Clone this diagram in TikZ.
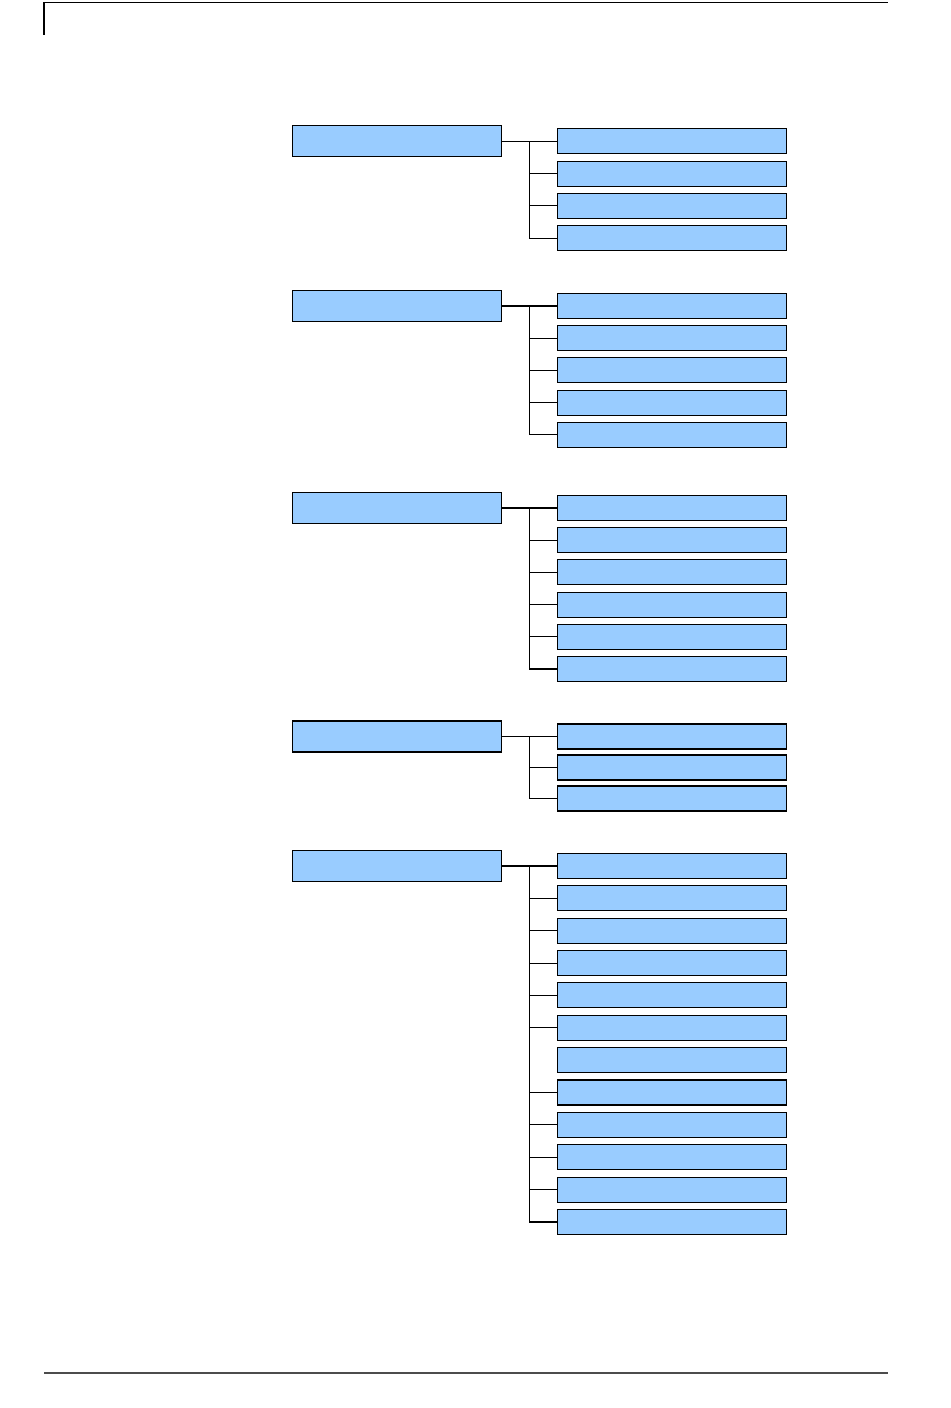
\documentclass[tikz,border=0pt]{standalone}
\usepackage{xcolor}
\usepackage{tikz}
\usetikzlibrary{positioning}

\definecolor{boxblue}{HTML}{99CCFF}

\begin{document}
\begin{tikzpicture}[
    x=0.75pt,y=-0.75pt,
    box/.style={draw,line width=0.8pt,fill=boxblue,inner sep=0pt},
    head/.style={box,minimum width=156.2pt,minimum height=23.25pt},
    item/.style={box,minimum width=171.7pt,minimum height=18.75pt},
    link/.style={line width=0.8pt},
    rule/.style={line width=0.8pt}
  ]
    \useasboundingbox (0,0) rectangle (950,1408);
    % page rules
    \coordinate (ruleTL) at (44,35);
    \coordinate (ruleTC) at (44,2.5);
    \coordinate (ruleTR) at (888,2.5);
    \coordinate (ruleBL) at (44,1373);
    \coordinate (ruleBR) at (888,1373);
    \draw[rule] (ruleTL) -- (ruleTC) -- (ruleTR);
    \draw[rule,line width=1pt,black!70] (ruleBL) -- (ruleBR);
    % groups: name / centre y / number of items / item pitch / item without branch
    \foreach \g/\y/\n/\d/\gap in {A/141.3/4/32.3/0, B/306/5/32.2/0, C/508/6/32.2/0, D/736.5/3/31/0, E/866/12/32.36/7} {
      \node[head] (head\g) at (397,\y) {};
      \coordinate (trunk\g) at (529.3,\y);
      \foreach \i in {1,...,\n}
        \node[item] (item\g\i) at (672.3,{\y+(\i-1)*\d}) {};
      \draw[link] (head\g.east) -- (item\g1.west);
      \draw[link] (trunk\g) |- (item\g\n.west);
      \foreach \i in {2,...,\n} {
        \ifnum\i=\gap\else
          \draw[link] (trunk\g |- item\g\i.west) -- (item\g\i.west);
        \fi
      }
    }
\end{tikzpicture}
\end{document}
